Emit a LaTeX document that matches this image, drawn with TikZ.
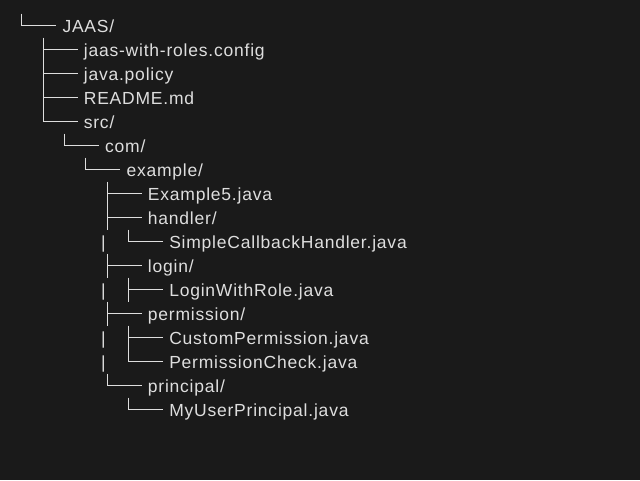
\documentclass[tikz,border=0pt]{standalone}
\usepackage{fontspec}
\setmainfont{Liberation Sans}[LetterSpace=4.5]
\definecolor{bg}{RGB}{26,26,26}
\definecolor{ink}{RGB}{222,222,222}
\tikzset{
  branch/.style={draw=ink, line width=1.2pt},
  entry/.style={text=ink, anchor=base west, inner sep=0pt, font=\fontsize{17.5}{21}\selectfont},
}
\makeatletter
\def\branch@mid{
  \coordinate (up\i) at (\xv,\yc-12);
  \coordinate (down\i) at (\xv,\yc+12);
  \coordinate (knee\i) at (\xv,\yc);
  \coordinate (tip\i) at (\xv+34.5,\yc);
  \draw[branch] (up\i) -- (down\i) (knee\i) -- (tip\i);
}
\def\branch@last{
  \coordinate (up\i) at (\xv,\yc-12);
  \coordinate (tip\i) at (\xv+34.5,\yc);
  \draw[branch] (up\i) |- (tip\i);
}
\def\pipe@yes{\node[entry, anchor=base] (p\i) at (103.3,\yc+6.4) {|};}
\def\pipe@no{}
\makeatother
\newcommand{\listing}[1]{
  \foreach[count=\i] \lvl/\kind/\stem/\name in {#1} {
    \pgfmathsetmacro{\xv}{21.8+21.35*\lvl}
    \pgfmathsetmacro{\yc}{25.7+24*(\i-1)}
    \csname branch@\kind\endcsname
    \csname pipe@\stem\endcsname
    \node[entry] (n\i) at (\xv+40.5,\yc+6.4) {\name};
  }
}

\begin{document}
\begin{tikzpicture}[x=1pt, y=-1pt]
  \fill[bg] (0,0) rectangle (640,480);
  \useasboundingbox (0,0) rectangle (640,480);
  \listing{0/last/no/{JAAS/},
    1/mid/no/{jaas-with-roles.config},
    1/mid/no/{java.policy},
    1/mid/no/{README.md},
    1/last/no/{src/},
    2/last/no/{com/},
    3/last/no/{example/},
    4/mid/no/{Example5.java},
    4/mid/no/{handler/},
    5/last/yes/{SimpleCallbackHandler.java},
    4/mid/no/{login/},
    5/mid/yes/{LoginWithRole.java},
    4/mid/no/{permission/},
    5/mid/yes/{CustomPermission.java},
    5/last/yes/{PermissionCheck.java},
    4/last/no/{principal/},
    5/last/no/{MyUserPrincipal.java}}
\end{tikzpicture}
\end{document}
